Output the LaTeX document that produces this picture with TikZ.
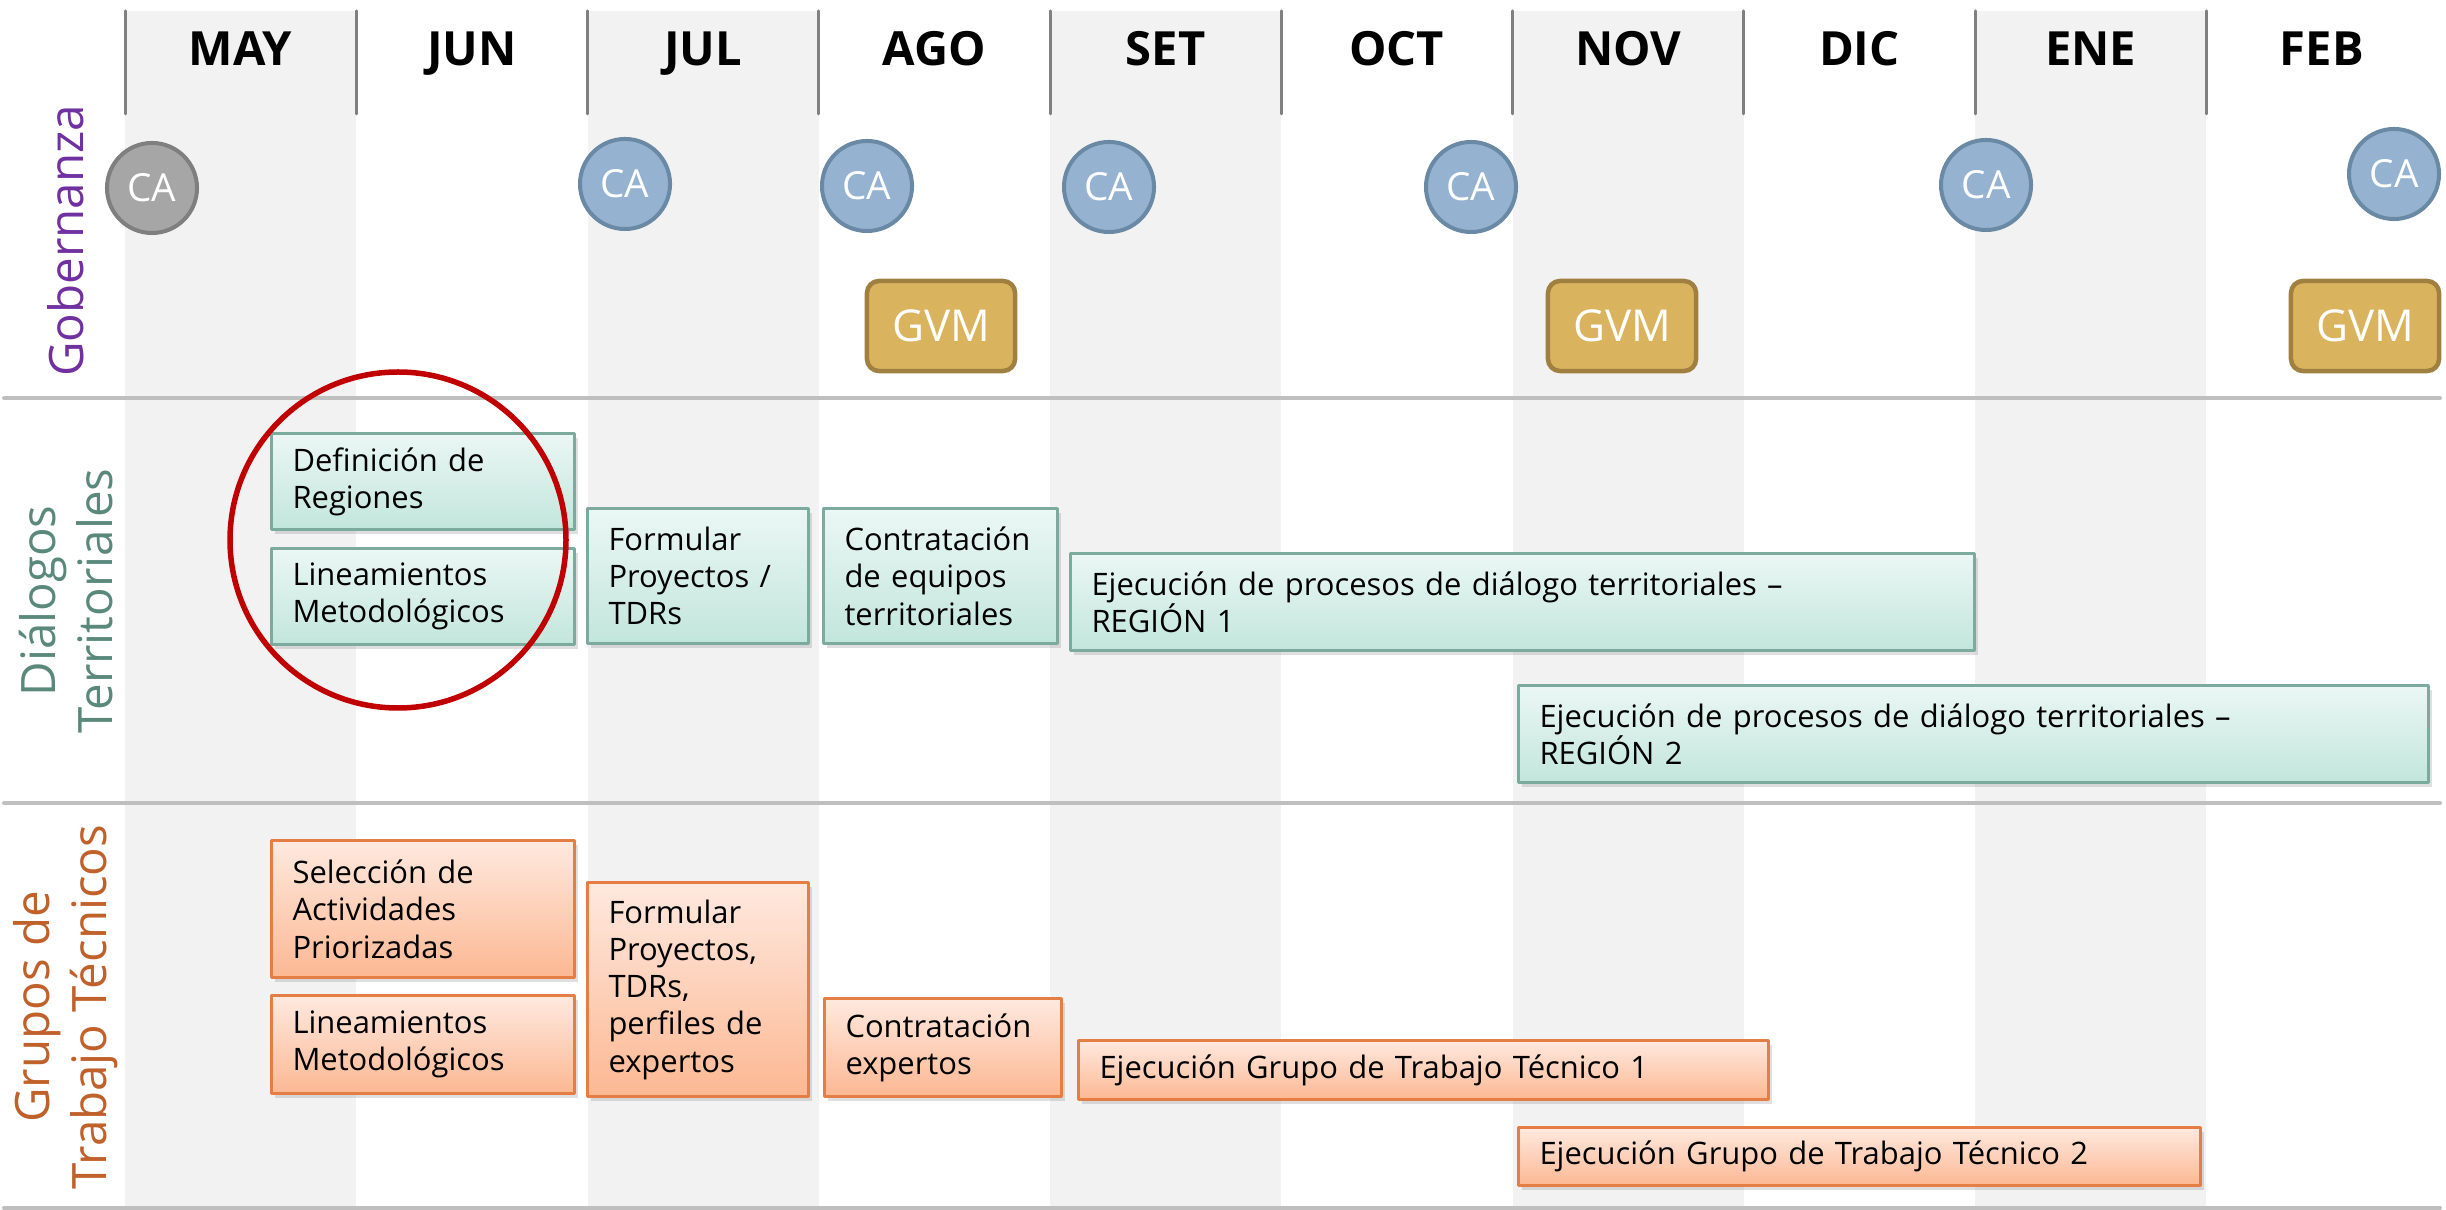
\documentclass[tikz,border=0pt]{standalone}
\usepackage{fontspec}
\setmainfont{Open Sans}
\usetikzlibrary{shadows}
\definecolor{colgris}{HTML}{F2F2F2}
\definecolor{lineagris}{HTML}{BFBFBF}
\definecolor{sepgris}{HTML}{808080}
\definecolor{gobmorado}{HTML}{7030A0}
\definecolor{dialverde}{HTML}{5A887A}
\definecolor{grupnaranja}{HTML}{C0602A}
\definecolor{cazul}{HTML}{95B3D0}
\definecolor{cazulb}{HTML}{6A89A4}
\definecolor{cgris}{HTML}{A6A6A6}
\definecolor{cgrisb}{HTML}{7F7F7F}
\definecolor{gvmoro}{HTML}{D9B35E}
\definecolor{gvmorob}{HTML}{A08040}
\definecolor{dialtop}{HTML}{EBF7F4}
\definecolor{dialbot}{HTML}{C2E6DB}
\definecolor{dialborde}{HTML}{7CAB9D}
\definecolor{gruptop}{HTML}{FEE9DF}
\definecolor{grupbot}{HTML}{FCB893}
\definecolor{grupborde}{HTML}{E57E45}
\definecolor{rojo}{HTML}{C00000}
\begin{document}
\begin{tikzpicture}[x=0.01cm, y=-0.01cm, line join=round, line cap=round,
	mes/.style={anchor=base, font=\fontsize{13.4}{15}\selectfont\bfseries},
	fila/.style={rotate=90, align=center, inner sep=0pt, font=\fontsize{13.5}{16.2}\selectfont},
	ca/.style={circle, fill=cazul, draw=cazulb, line width=0.04cm, minimum size=0.9cm, inner sep=0pt, text=white, font=\fontsize{11}{13}\selectfont},
	gvm/.style={rounded corners=0.12cm, fill=gvmoro, draw=gvmorob, line width=0.045cm, minimum width=1.48cm, minimum height=0.9cm, text=white, font=\fontsize{12.5}{14}\selectfont},
	caja/.style={anchor=north west, line width=0.03cm, inner xsep=0.21cm, align=left, font=\fontsize{8.8}{10.6}\selectfont, drop shadow={shadow xshift=0.035cm, shadow yshift=-0.045cm, opacity=0.25}},
	cajadial/.style={caja, draw=dialborde, top color=dialtop, bottom color=dialbot},
	cajagrup/.style={caja, draw=grupborde, top color=gruptop, bottom color=grupbot}]
	\useasboundingbox (0,0) rectangle (2446,1210);
	% columnas sombreadas y cabecera
	\foreach \i in {0,2,4,6,8}
		\fill[colgris] ({125+231.25*\i},11) rectangle ++(231.25,1199);
	\foreach \i in {0,...,9}
		\draw[sepgris, line width=0.03cm] ({125+231.25*\i},11) -- ++(0,103);
	\foreach \m [count=\i from 0] in {MAY,JUN,JUL,AGO,SET,OCT,NOV,DIC,ENE,FEB}
		\node[mes] (m\m) at ({240.6+231.25*\i},66) {\m};
	% separadores de filas
	\foreach \y in {398,803,1208}
		\draw[lineagris, line width=0.04cm] (4,\y) -- (2440,\y);
	% etiquetas de filas
	\node[fila, text=gobmorado] (gob) at (66,241) {Gobernanza};
	\node[fila, text=dialverde] (dial) at (66,601) {Diálogos\\Territoriales};
	\node[fila, text=grupnaranja] (grup) at (66,1007) {Grupos de\\Trabajo Técnicos};
	% Gobernanza
	\node[ca, fill=cgris, draw=cgrisb] (ca1) at (152,188) {CA};
	\node[ca] (ca2) at (625,184) {CA};
	\node[ca] (ca3) at (867,186) {CA};
	\node[ca] (ca4) at (1109,187) {CA};
	\node[ca] (ca5) at (1471,187) {CA};
	\node[ca] (ca6) at (1986,185) {CA};
	\node[ca] (ca7) at (2394,174) {CA};
	\node[gvm] (gvm1) at (941,326) {GVM};
	\node[gvm] (gvm2) at (1622,326) {GVM};
	\node[gvm] (gvm3) at (2365,326) {GVM};
	% Dialogos territoriales
	\node[cajadial, text width=2.61cm, minimum height=0.96cm] (defreg) at (270,432) {Definición de\\Regiones};
	\node[cajadial, text width=2.61cm, minimum height=0.96cm] (lindial) at (270,547) {Lineamientos\\Metodológicos};
	\node[cajadial, text width=1.79cm, minimum height=1.35cm] (formdial) at (586,507) {Formular\\Proyectos /\\TDRs};
	\node[cajadial, text width=1.92cm, minimum height=1.35cm] (contdial) at (822,507) {Contratación\\de equipos\\territoriales};
	\node[cajadial, text width=8.61cm, minimum height=0.97cm] (ejreg1) at (1069,552) {Ejecución de procesos de diálogo territoriales –\\REGIÓN 1};
	\node[cajadial, text width=8.67cm, minimum height=0.97cm] (ejreg2) at (1517,684) {Ejecución de procesos de diálogo territoriales –\\REGIÓN 2};
	% Grupos de trabajo tecnicos
	\node[cajagrup, text width=2.61cm, minimum height=1.37cm] (selact) at (270,839) {Selección de\\Actividades\\Priorizadas};
	\node[cajagrup, text width=2.61cm, minimum height=0.98cm] (lingrup) at (270,994) {Lineamientos\\Metodológicos};
	\node[cajagrup, text width=1.79cm, minimum height=2.14cm] (formgrup) at (586,881) {Formular\\Proyectos,\\TDRs,\\perfiles de\\expertos};
	\node[cajagrup, text width=1.95cm, minimum height=0.98cm] (contgrup) at (823,997) {Contratación\\expertos};
	\node[cajagrup, text width=6.48cm, minimum height=0.59cm] (ejgtt1) at (1077,1039) {Ejecución Grupo de Trabajo Técnico 1};
	\node[cajagrup, text width=6.40cm, minimum height=0.58cm] (ejgtt2) at (1517,1126) {Ejecución Grupo de Trabajo Técnico 2};
	% resaltado
	\draw[rojo, line width=0.055cm] (398,540) circle[radius=168];
\end{tikzpicture}
\end{document}
